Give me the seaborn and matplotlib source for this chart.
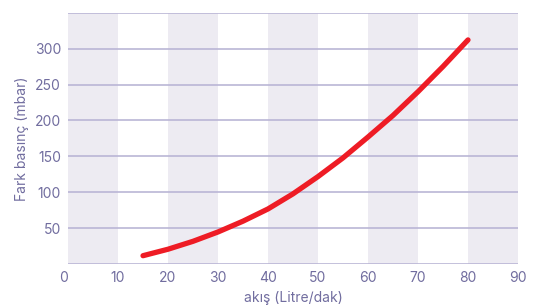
import numpy as np
import pandas as pd
import matplotlib
matplotlib.use("Agg")
import matplotlib.pyplot as plt
import seaborn as sns

# flow (Litre/dak) vs differential pressure (mbar)
flow = [15, 20, 25, 30, 35, 40, 45, 50, 55, 60, 65, 70, 75, 80]
pressure = [12, 21, 32, 45, 60, 77, 98, 122, 148, 177, 207, 240, 275, 312]
x_ticks = [0, 10, 20, 30, 40, 50, 60, 70, 80, 90]
y_ticks = [50, 100, 150, 200, 250, 300]

df = pd.DataFrame({"akis": flow, "fark": pressure})

sns.set_style("white")
plt.rcParams['font.family'] = ['Inter', 'DejaVu Sans']

text_col = "#716d9f"
grid_col = "#bab6d6"
band_col = "#edebf2"

fig = plt.figure(figsize=(5.42, 3.07), dpi=100)
ax = fig.add_axes([0.1255, 0.139, 0.8302, 0.820])

# alternating vertical bands
for start in range(0, 90, 20):
    ax.axvspan(start, start + 10, color=band_col, lw=0, zorder=0)

# horizontal grid lines
for yv in range(0, 351, 50):
    ax.axhline(yv, color=grid_col, lw=1.2, zorder=1)

sns.lineplot(data=df, x="akis", y="fark", ax=ax, color="#ee1c25",
             linewidth=3.8, solid_capstyle="round", zorder=3)

ax.set_xlim(0, 90)
ax.set_ylim(0, 350)
ax.set_xticks(x_ticks)
ax.set_yticks(y_ticks)
ax.tick_params(axis="both", length=0, labelsize=10, colors=text_col)
ax.tick_params(axis="x", pad=5)
ax.tick_params(axis="y", pad=5)
for s in ax.spines.values():
    s.set_visible(False)
# the origin label sits a bit left of the axis in the reference
ax.get_xticklabels()[0].set_ha("right")

ax.set_xlabel("akış (Litre/dak)", fontsize=10, color=text_col, labelpad=4)
ax.set_ylabel("Fark basınç (mbar)", fontsize=10, color=text_col, labelpad=4)

plt.savefig("out.png", dpi=100)
